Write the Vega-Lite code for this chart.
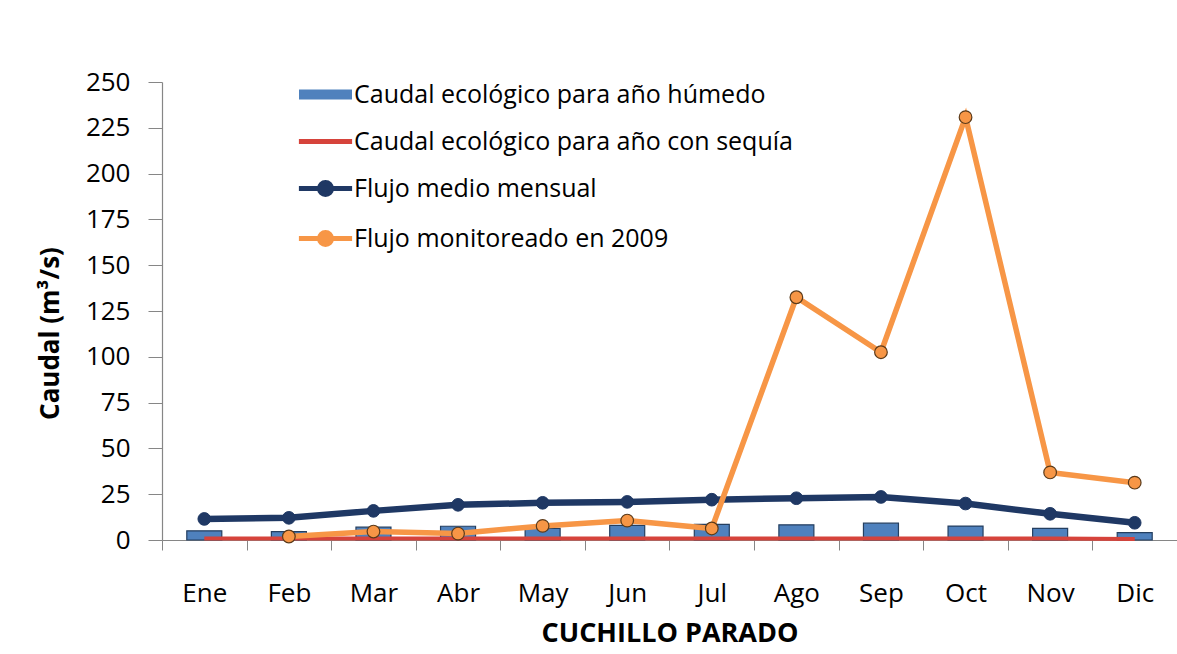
{
  "$schema": "https://vega.github.io/schema/vega-lite/v6.json",
  "width": 1015,
  "height": 458,
  "autosize": {"type": "none"},
  "padding": {"left": 162, "top": 82, "right": 0, "bottom": 114},
  "background": "white",
  "config": {
    "view": {"stroke": null},
    "font": "Open Sans",
    "axis": {"grid": false, "domainColor": "#868686", "tickColor": "#868686", "labelColor": "#000000", "titleColor": "#000000", "labelFont": "Open Sans", "titleFont": "Open Sans"}
  },
  "data": {
    "values": [
      {"mes": "Ene", "serie": "Caudal ecológico para año húmedo", "valor": 5},
      {"mes": "Feb", "serie": "Caudal ecológico para año húmedo", "valor": 4.6},
      {"mes": "Mar", "serie": "Caudal ecológico para año húmedo", "valor": 7},
      {"mes": "Abr", "serie": "Caudal ecológico para año húmedo", "valor": 7.5},
      {"mes": "May", "serie": "Caudal ecológico para año húmedo", "valor": 6.3},
      {"mes": "Jun", "serie": "Caudal ecológico para año húmedo", "valor": 8},
      {"mes": "Jul", "serie": "Caudal ecológico para año húmedo", "valor": 8.5},
      {"mes": "Ago", "serie": "Caudal ecológico para año húmedo", "valor": 8.3},
      {"mes": "Sep", "serie": "Caudal ecológico para año húmedo", "valor": 9.2},
      {"mes": "Oct", "serie": "Caudal ecológico para año húmedo", "valor": 7.6},
      {"mes": "Nov", "serie": "Caudal ecológico para año húmedo", "valor": 6.3},
      {"mes": "Dic", "serie": "Caudal ecológico para año húmedo", "valor": 4},
      {"mes": "Ene", "serie": "Caudal ecológico para año con sequía", "valor": 0.8},
      {"mes": "Feb", "serie": "Caudal ecológico para año con sequía", "valor": 0.8},
      {"mes": "Mar", "serie": "Caudal ecológico para año con sequía", "valor": 0.8},
      {"mes": "Abr", "serie": "Caudal ecológico para año con sequía", "valor": 0.8},
      {"mes": "May", "serie": "Caudal ecológico para año con sequía", "valor": 0.8},
      {"mes": "Jun", "serie": "Caudal ecológico para año con sequía", "valor": 0.8},
      {"mes": "Jul", "serie": "Caudal ecológico para año con sequía", "valor": 0.8},
      {"mes": "Ago", "serie": "Caudal ecológico para año con sequía", "valor": 0.8},
      {"mes": "Sep", "serie": "Caudal ecológico para año con sequía", "valor": 0.8},
      {"mes": "Oct", "serie": "Caudal ecológico para año con sequía", "valor": 0.8},
      {"mes": "Nov", "serie": "Caudal ecológico para año con sequía", "valor": 0.8},
      {"mes": "Dic", "serie": "Caudal ecológico para año con sequía", "valor": 0.6},
      {"mes": "Ene", "serie": "Flujo medio mensual", "valor": 11.5},
      {"mes": "Feb", "serie": "Flujo medio mensual", "valor": 12.1},
      {"mes": "Mar", "serie": "Flujo medio mensual", "valor": 15.9},
      {"mes": "Abr", "serie": "Flujo medio mensual", "valor": 19.2},
      {"mes": "May", "serie": "Flujo medio mensual", "valor": 20.3},
      {"mes": "Jun", "serie": "Flujo medio mensual", "valor": 20.8},
      {"mes": "Jul", "serie": "Flujo medio mensual", "valor": 22},
      {"mes": "Ago", "serie": "Flujo medio mensual", "valor": 22.8},
      {"mes": "Sep", "serie": "Flujo medio mensual", "valor": 23.5},
      {"mes": "Oct", "serie": "Flujo medio mensual", "valor": 19.9},
      {"mes": "Nov", "serie": "Flujo medio mensual", "valor": 14.3},
      {"mes": "Dic", "serie": "Flujo medio mensual", "valor": 9.4},
      {"mes": "Feb", "serie": "Flujo monitoreado en 2009", "valor": 1.9},
      {"mes": "Mar", "serie": "Flujo monitoreado en 2009", "valor": 4.6},
      {"mes": "Abr", "serie": "Flujo monitoreado en 2009", "valor": 3.5},
      {"mes": "May", "serie": "Flujo monitoreado en 2009", "valor": 7.7},
      {"mes": "Jun", "serie": "Flujo monitoreado en 2009", "valor": 10.6},
      {"mes": "Jul", "serie": "Flujo monitoreado en 2009", "valor": 6.3},
      {"mes": "Ago", "serie": "Flujo monitoreado en 2009", "valor": 132.5},
      {"mes": "Sep", "serie": "Flujo monitoreado en 2009", "valor": 102.5},
      {"mes": "Oct", "serie": "Flujo monitoreado en 2009", "valor": 230.8},
      {"mes": "Nov", "serie": "Flujo monitoreado en 2009", "valor": 36.9},
      {"mes": "Dic", "serie": "Flujo monitoreado en 2009", "valor": 31.3}
    ]
  },
  "encoding": {
    "x": {
      "field": "mes", "type": "nominal",
      "scale": {"domain": ["Ene","Feb","Mar","Abr","May","Jun","Jul","Ago","Sep","Oct","Nov","Dic"], "paddingInner": 0, "paddingOuter": 0},
      "axis": {"title": "CUCHILLO PARADO", "titleFontSize": 27, "titleFontWeight": "bold", "titlePadding": 14, "labelFontSize": 26, "labelAngle": 0, "labelPadding": 30, "tickSize": 10, "tickBand": "extent", "domainWidth": 1.2}
    },
    "y": {
      "field": "valor", "type": "quantitative",
      "scale": {"domain": [0, 250], "nice": false},
      "axis": {"title": "Caudal (m³/s)", "titleFontSize": 26, "titleFontWeight": "bold", "titlePadding": 22, "titleY": 251, "values": [0,25,50,75,100,125,150,175,200,225,250], "labelFontSize": 26, "labelPadding": 18, "tickSize": 14, "domainWidth": 1.2}
    }
  },
  "layer": [
    {
      "transform": [{"filter": "datum.serie === 'Caudal ecológico para año húmedo'"}],
      "mark": {"type": "bar", "width": 35, "stroke": "#243f60", "strokeWidth": 1.2},
      "encoding": {
        "fill": {
          "field": "serie", "type": "nominal",
          "scale": {
            "domain": ["Caudal ecológico para año húmedo", "Caudal ecológico para año con sequía", "Flujo medio mensual", "Flujo monitoreado en 2009"],
            "range": ["#4f81bd", "transparent", "#1f3864", "#f79646"]
          },
          "legend": {
            "title": null,
            "orient": "none",
            "direction": "vertical",
            "legendX": 141,
            "legendY": -10,
            "padding": 0,
            "symbolSize": 1600,
            "rowPadding": 11,
            "labelFont": "Open Sans",
            "labelFontSize": 25,
            "labelColor": "#000000",
            "labelOffset": 6,
            "labelLimit": 600,
            "symbolOpacity": 1,
            "symbolStrokeWidth": 5,
            "symbolType": {"expr": "datum.value === 'Caudal ecológico para año húmedo' ? 'M-1.2,-0.13H1.2V0.13H-1.2Z' : (datum.value === 'Caudal ecológico para año con sequía' ? 'M-1.33,0H1.33' : 'M-1.33,0H1.33M0.3,0A0.3,0.3,0,1,1,-0.3,0A0.3,0.3,0,1,1,0.3,0Z')"}
          }
        }
      }
    },
    {
      "transform": [{"filter": "datum.serie === 'Caudal ecológico para año con sequía'"}],
      "mark": {"type": "line", "strokeWidth": 4},
      "encoding": {
        "stroke": {
          "field": "serie", "type": "nominal",
          "scale": {
            "domain": ["Caudal ecológico para año húmedo", "Caudal ecológico para año con sequía", "Flujo medio mensual", "Flujo monitoreado en 2009"],
            "range": ["#4f81bd", "#d6433b", "#1f3864", "#f79646"]
          }
        }
      }
    },
    {
      "transform": [{"filter": "datum.serie === 'Flujo medio mensual'"}],
      "mark": {"type": "line", "strokeWidth": 6.5},
      "encoding": {"stroke": {"field": "serie", "type": "nominal"}}
    },
    {
      "transform": [{"filter": "datum.serie === 'Flujo medio mensual'"}],
      "mark": {"type": "point", "shape": "circle", "filled": true, "size": 160, "fill": "#1f3864", "stroke": "#1f3864", "strokeWidth": 1, "opacity": 1},
      "encoding": {}
    },
    {
      "transform": [{"filter": "datum.serie === 'Flujo monitoreado en 2009'"}],
      "mark": {"type": "line", "strokeWidth": 5.5},
      "encoding": {"stroke": {"field": "serie", "type": "nominal"}}
    },
    {
      "transform": [{"filter": "datum.serie === 'Flujo monitoreado en 2009'"}],
      "mark": {"type": "point", "shape": "circle", "filled": true, "size": 160, "fill": "#f79646", "stroke": "#5a3a1a", "strokeWidth": 1.2, "opacity": 1},
      "encoding": {}
    }
  ]
}
